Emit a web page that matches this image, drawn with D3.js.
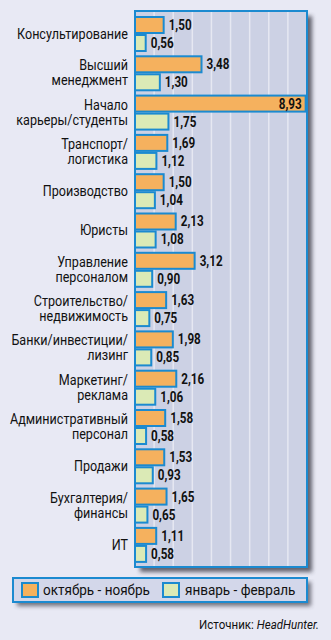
<!DOCTYPE html>
<html>
<head>
<meta charset="utf-8">
<script src="https://cdn.jsdelivr.net/npm/d3@7"></script>
<style>
  html, body { margin: 0; padding: 0; background: #e8e9f4; }
  svg { display: block; }
  text { font-family: Roboto, "Liberation Sans", sans-serif; fill: #111; }
  .cat { font-size: 14px; }
  .val { font-size: 14px; font-weight: bold; }
  .leg { font-size: 15px; }
  .src { font-size: 13px; }
</style>
</head>
<body>
<svg id="chart" width="331" height="640"></svg>
<script>
// Professions (label lines) and the hh.index values for two periods
const categories = [
  ["Консультирование"],
  ["Высший", "менеджмент"],
  ["Начало", "карьеры/студенты"],
  ["Транспорт/", "логистика"],
  ["Производство"],
  ["Юристы"],
  ["Управление", "персоналом"],
  ["Строительство/", "недвижимость"],
  ["Банки/инвестиции/", "лизинг"],
  ["Маркетинг/", "реклама"],
  ["Административный", "персонал"],
  ["Продажи"],
  ["Бухгалтерия/", "финансы"],
  ["ИТ"]
];
const octNov = [1.50, 3.48, 8.93, 1.69, 1.50, 2.13, 3.12, 1.63, 1.98, 2.16, 1.58, 1.53, 1.65, 1.11];
const janFeb = [0.56, 1.30, 1.75, 1.12, 1.04, 1.08, 0.90, 0.75, 0.85, 1.06, 0.58, 0.93, 0.65, 0.58];
const seriesNames = ["октябрь - ноябрь", "январь - февраль"];
const sourceLabel = "Источник: ";
const sourceName = "HeadHunter.";

const colors = {
  plot: "#ccd1e4",
  grid: "#e6e8f2",
  border: "#1b8ad0",
  orange: "#f5b15e",
  green: "#dbeab6",
  legend: "#d3d7ea"
};

const svg = d3.select("#chart");
const plot = { left: 135, top: 11, right: 307, bottom: 567 };

const ru = d3.formatLocale({ decimal: ",", thousands: " ", grouping: [3], currency: ["", " ₽"] });
const fmt = ru.format(".2f");

const x = d3.scaleLinear().domain([0, 9]).range([plot.left, plot.right]);
const y = d3.scaleBand()
  .domain(d3.range(categories.length))
  .range([plot.top + 6, plot.top + 6 + 39.3 * categories.length])
  .paddingInner(0);

const barH = 16, gap = 2;

// horizontal squeeze factor so a class of text gets a condensed look
function squeeze(cls, sample, target) {
  const t = svg.append("text").attr("class", cls).text(sample);
  const w = t.node().getComputedTextLength();
  t.remove();
  return target / w;
}
const kCat = squeeze("cat", "Консультирование", 111);
const kVal = squeeze("val", "1,50", 23);
const kLeg = squeeze("leg", "октябрь - ноябрь", 107);
const kSrc = squeeze("src", "Источник: HeadHunter.", 122);
const condense = (x0, k) => `translate(${x0},0) scale(${k},1) translate(${-x0},0)`;

// drop shadow filter
const defs = svg.append("defs");
const f = defs.append("filter").attr("id", "shadow").attr("x", "-10%").attr("y", "-10%").attr("width", "130%").attr("height", "130%");
f.append("feGaussianBlur").attr("stdDeviation", 2);

// plot shadow + background
svg.append("rect")
  .attr("x", plot.left + 5).attr("y", plot.top + 5)
  .attr("width", plot.right - plot.left).attr("height", plot.bottom - plot.top)
  .attr("fill", "#4a4a55").attr("opacity", 0.85).attr("filter", "url(#shadow)");
svg.append("rect")
  .attr("x", plot.left).attr("y", plot.top)
  .attr("width", plot.right - plot.left).attr("height", plot.bottom - plot.top)
  .attr("fill", colors.plot);

// vertical grid lines
svg.append("g").selectAll("line")
  .data(x.ticks(9).filter(t => t > 0 && t < 9))
  .join("line")
  .attr("x1", d => x(d)).attr("x2", d => x(d))
  .attr("y1", plot.top).attr("y2", plot.bottom)
  .attr("stroke", colors.grid).attr("stroke-width", 1.5);

// bars
const groups = svg.append("g").selectAll("g")
  .data(categories.map((c, i) => ({ c, i, a: octNov[i], b: janFeb[i] })))
  .join("g");

groups.append("rect")
  .attr("x", x(0))
  .attr("y", d => y(d.i))
  .attr("width", d => x(d.a) - x(0))
  .attr("height", barH)
  .attr("fill", colors.orange)
  .attr("stroke", colors.border).attr("stroke-width", 2);

groups.append("rect")
  .attr("x", x(0))
  .attr("y", d => y(d.i) + barH + gap)
  .attr("width", d => x(d.b) - x(0))
  .attr("height", barH)
  .attr("fill", colors.green)
  .attr("stroke", colors.border).attr("stroke-width", 2);

// value labels
groups.append("text")
  .attr("class", "val")
  .each(function (d) {
    const inside = d.a > 8;
    const x0 = inside ? x(d.a) - 4 : x(d.a) + 5;
    d3.select(this)
      .attr("x", x0)
      .attr("text-anchor", inside ? "end" : "start")
      .attr("transform", condense(x0, kVal));
  })
  .attr("y", d => y(d.i) + barH / 2 + 5)
  .text(d => fmt(d.a));

groups.append("text")
  .attr("class", "val")
  .each(function (d) {
    const x0 = x(d.b) + 5;
    d3.select(this).attr("x", x0).attr("transform", condense(x0, kVal));
  })
  .attr("y", d => y(d.i) + barH + gap + barH / 2 + 5)
  .text(d => fmt(d.b));

// category labels
const labelX = 128;
groups.append("text")
  .attr("class", "cat")
  .attr("text-anchor", "end")
  .attr("transform", condense(labelX, kCat))
  .each(function (d) {
    const cy = y(d.i) + barH + gap / 2;
    const t = d3.select(this);
    if (d.c.length === 1) {
      t.append("tspan").attr("x", labelX).attr("y", cy + 5).text(d.c[0]);
    } else {
      d.c.forEach((line, k) => {
        t.append("tspan").attr("x", labelX).attr("y", cy - 3 + k * 15).text(line);
      });
    }
  });

// plot border
svg.append("rect")
  .attr("x", plot.left).attr("y", plot.top)
  .attr("width", plot.right - plot.left).attr("height", plot.bottom - plot.top)
  .attr("fill", "none").attr("stroke", colors.border).attr("stroke-width", 2);

// legend
const lg = { x: 13, y: 578, w: 294, h: 24 };
svg.append("rect")
  .attr("x", lg.x + 4).attr("y", lg.y + 4).attr("width", lg.w).attr("height", lg.h)
  .attr("fill", "#4a4a55").attr("opacity", 0.75).attr("filter", "url(#shadow)");
svg.append("rect")
  .attr("x", lg.x).attr("y", lg.y).attr("width", lg.w).attr("height", lg.h)
  .attr("fill", colors.legend).attr("stroke", colors.border).attr("stroke-width", 2);

const legendItems = [
  { name: seriesNames[0], color: colors.orange, sx: 22, tx: 43 },
  { name: seriesNames[1], color: colors.green, sx: 163, tx: 185 }
];
const li = svg.append("g").selectAll("g").data(legendItems).join("g");
li.append("rect")
  .attr("x", d => d.sx).attr("y", lg.y + 5).attr("width", 16).attr("height", 14)
  .attr("fill", d => d.color).attr("stroke", colors.border).attr("stroke-width", 2);
li.append("text")
  .attr("class", "leg")
  .attr("x", d => d.tx).attr("y", lg.y + 17)
  .attr("transform", d => condense(d.tx, kLeg))
  .text(d => d.name);

// source
const srcX = 319;
const src = svg.append("text").attr("class", "src")
  .attr("x", srcX).attr("y", 629).attr("text-anchor", "end")
  .attr("transform", condense(srcX, kSrc));
src.append("tspan").text(sourceLabel);
src.append("tspan").attr("font-style", "italic").text(sourceName);
</script>
</body>
</html>
